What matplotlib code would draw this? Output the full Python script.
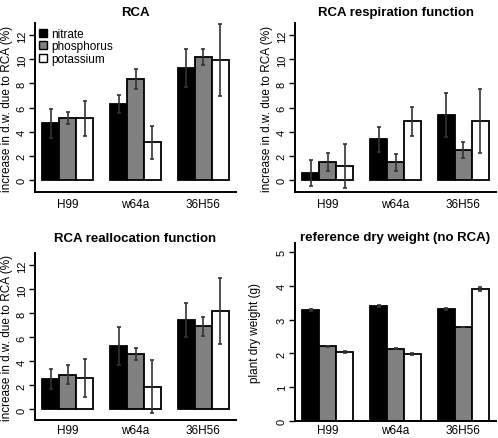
import matplotlib
matplotlib.use('Agg')
import matplotlib.pyplot as plt
from matplotlib.lines import Line2D
import numpy as np

plt.rcParams['font.family'] = ['Liberation Sans', 'DejaVu Sans']

groups = ['H99', 'w64a', '36H56']
nutrients = ['nitrate', 'phosphorus', 'potassium']
colors = ['black', '#808080', 'white']

# RCA
rca_nitrate = [4.68, 6.27, 9.27]
rca_phosphorus = [5.15, 8.35, 10.2]
rca_potassium = [5.1, 3.1, 9.95]
rca_nitrate_err = [1.2, 0.75, 1.55]
rca_phosphorus_err = [0.5, 0.83, 0.65]
rca_potassium_err = [1.45, 1.4, 3.0]

# RCA respiration function
resp_nitrate = [0.58, 3.35, 5.36]
resp_phosphorus = [1.47, 1.44, 2.47]
resp_potassium = [1.13, 4.86, 4.86]
resp_nitrate_err = [1.1, 1.04, 1.84]
resp_phosphorus_err = [0.73, 0.69, 0.69]
resp_potassium_err = [1.83, 1.2, 2.66]

# RCA reallocation function
realloc_nitrate = [2.55, 5.32, 7.46]
realloc_phosphorus = [2.9, 4.65, 6.93]
realloc_potassium = [2.63, 1.89, 8.2]
realloc_nitrate_err = [0.81, 1.59, 1.42]
realloc_phosphorus_err = [0.82, 0.5, 0.78]
realloc_potassium_err = [1.56, 2.2, 2.78]

# reference dry weight (no RCA)
dw_nitrate = [3.28, 3.40, 3.31]
dw_phosphorus = [2.21, 2.14, 2.78]
dw_potassium = [2.05, 1.98, 3.91]
dw_nitrate_err = [0.03, 0.03, 0.03]
dw_phosphorus_err = [0.02, 0.02, 0.01]
dw_potassium_err = [0.03, 0.03, 0.05]

W, H = 498, 439
fig = plt.figure(figsize=(W / 100, H / 100), dpi=100)


def add_panel(left, top, right, bottom):
    return fig.add_axes([left / W, 1 - bottom / H, (right - left) / W, (bottom - top) / H])


def draw(ax, series, errors, title, ylabel, ylim, yticks, labx, tpad, xpad=4):
    for i, (vals, errs) in enumerate(zip(series, errors)):
        x = 1.5 + 4 * np.arange(len(groups)) + i
        ax.bar(x, vals, width=1.0, color=colors[i], edgecolor='black', linewidth=1.3, zorder=2)
        ax.errorbar(x, vals, yerr=errs, fmt='none', ecolor='#333333', elinewidth=1.2,
                    capsize=1.6, capthick=1.2, zorder=3)
    ax.set_xlim(0.56, 12.44)
    ax.set_ylim(*ylim)
    ax.set_yticks(yticks)
    ax.set_xticks(2.5 + 4 * np.arange(len(groups)))
    ax.set_xticklabels(groups)
    ax.tick_params(axis='x', length=0, pad=xpad, labelsize=8.5)
    ax.tick_params(axis='y', length=4, width=1, pad=2, labelsize=8, labelrotation=90)
    for lab in ax.get_yticklabels():
        lab.set_va('center')
    for s in ['top', 'right']:
        ax.spines[s].set_visible(False)
    for s in ['left', 'bottom']:
        ax.spines[s].set_linewidth(1.4)
    ax.set_title(title, fontsize=9.5, fontweight='bold', pad=tpad)
    ax.set_ylabel(ylabel, fontsize=8.5)
    ax.yaxis.set_label_coords(labx, 0.5)
    ax.yaxis.label.set_va('center')


pct_label = 'increase in d.w. due to RCA (%)'

ax1 = add_panel(35, 24, 236, 193)
draw(ax1, [rca_nitrate, rca_phosphorus, rca_potassium],
     [rca_nitrate_err, rca_phosphorus_err, rca_potassium_err],
     'RCA', pct_label, (-1.02, 13.02), range(0, 13, 2), -28 / 201, 6)

handles = [Line2D([], [], linestyle='none', marker='s', markersize=5.5, markerfacecolor=c,
                  markeredgecolor='black', markeredgewidth=1) for c in colors]
ax1.legend(handles, nutrients, loc='upper left', bbox_to_anchor=(0.0, 0.985), frameon=False,
           fontsize=8.5, borderpad=0, borderaxespad=0.2, handlelength=0.9, handletextpad=0.3,
           labelspacing=0.05)

ax2 = add_panel(295, 24, 496, 193)
draw(ax2, [resp_nitrate, resp_phosphorus, resp_potassium],
     [resp_nitrate_err, resp_phosphorus_err, resp_potassium_err],
     'RCA respiration function', pct_label, (-1.02, 13.02), range(0, 13, 2), -28 / 201, 6)

ax3 = add_panel(35, 254, 236, 421)
draw(ax3, [realloc_nitrate, realloc_phosphorus, realloc_potassium],
     [realloc_nitrate_err, realloc_phosphorus_err, realloc_potassium_err],
     'RCA reallocation function', pct_label, (-0.88, 13.04), range(0, 13, 2), -28 / 201, 8.5,
     xpad=3)

ax4 = add_panel(295, 243.5, 496, 422)
draw(ax4, [dw_nitrate, dw_phosphorus, dw_potassium],
     [dw_nitrate_err, dw_phosphorus_err, dw_potassium_err],
     'reference dry weight (no RCA)', 'plant dry weight (g)', (0, 5.28), range(0, 6), -40 / 201, 2,
     xpad=2.5)

fig.savefig('out.png', dpi=100)
